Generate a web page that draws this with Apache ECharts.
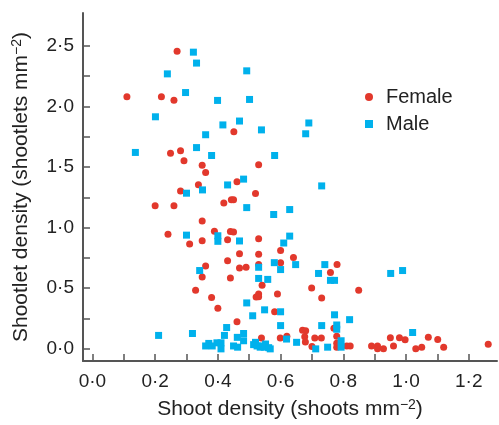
<!DOCTYPE html>
<html>
<head>
<meta charset="utf-8">
<script src="https://cdn.jsdelivr.net/npm/echarts@6/dist/echarts.min.js"></script>
<style>
  html, body { margin: 0; padding: 0; background: #fff; }
  #chart { width: 499px; height: 425px; }
</style>
</head>
<body>
<div id="chart"></div>
<script>
// shoot density (x) vs shootlet density (y)
let female = [
    [0.270,2.455],[0.110,2.08],[0.220,2.08],[0.260,2.05],[0.249,1.614],[0.281,1.633],[0.292,1.552],
    [0.350,1.514],[0.361,1.454],[0.338,1.354],[0.281,1.303],[0.451,1.79],[0.530,1.519],[0.461,1.379],
    [0.520,1.281],[0.200,1.18],[0.260,1.18],[0.350,1.054],[0.389,0.97],[0.241,0.946],[0.310,0.865],
    [0.350,0.892],[0.361,0.684],[0.350,0.592],[0.329,0.484],[0.380,0.424],[0.400,0.335],[0.419,1.203],
    [0.443,1.23],[0.450,1.23],[0.44,0.968],[0.45,0.963],[0.431,0.90],[0.530,0.908],[0.469,0.784],
    [0.530,0.781],[0.600,0.811],[0.641,0.754],[0.431,0.727],[0.600,0.711],[0.530,0.695],[0.469,0.667],
    [0.490,0.673],[0.780,0.695],[0.759,0.630],[0.44,0.584],[0.541,0.525],[0.699,0.503],[0.849,0.484],
    [0.590,0.452],[0.53,0.452],[0.522,0.427],[0.53,0.43],[0.731,0.419],[0.581,0.306],[0.461,0.224],
    [0.670,0.154],[0.680,0.149],[0.677,0.10],[0.679,0.057],[0.539,0.089],[0.599,0.089],[0.62,0.105],
    [0.709,0.089],[0.730,0.089],[0.770,0.17],[0.779,0.105],[0.70,0.019],[0.779,0.046],[0.779,0.014],
    [0.811,0.024],[0.822,0.024],[0.890,0.024],[0.909,0.024],[0.909,0.0],[0.928,0.0],[0.950,0.092],
    [0.960,0.024],[0.979,0.092],[0.997,0.076],[1.031,0.0],[1.050,0.014],[1.071,0.095],[1.101,0.078],
    [1.120,0.014],[1.262,0.038]
];
let male = [
    [0.322,2.447],[0.332,2.357],[0.239,2.268],[0.297,2.114],[0.399,2.049],[0.201,1.914],[0.416,1.847],
    [0.361,1.766],[0.137,1.62],[0.332,1.66],[0.380,1.595],[0.351,1.311],[0.300,1.284],[0.492,2.293],
    [0.501,2.057],[0.469,1.879],[0.539,1.806],[0.690,1.863],[0.680,1.774],[0.581,1.595],[0.482,1.40],
    [0.431,1.352],[0.731,1.344],[0.300,0.938],[0.40,0.933],[0.40,0.887],[0.342,0.646],[0.211,0.111],
    [0.319,0.127],[0.492,1.165],[0.578,1.108],[0.629,1.149],[0.629,0.93],[0.610,0.873],[0.469,0.89],
    [0.580,0.711],[0.600,0.654],[0.648,0.695],[0.530,0.673],[0.741,0.695],[0.721,0.622],[0.759,0.565],
    [0.772,0.565],[0.530,0.581],[0.559,0.573],[0.492,0.379],[0.549,0.322],[0.511,0.273],[0.600,0.306],
    [0.600,0.192],[0.772,0.281],[0.820,0.241],[0.731,0.192],[0.779,0.197],[0.779,0.162],[0.428,0.176],
    [0.421,0.111],[0.482,0.127],[0.462,0.095],[0.482,0.067],[0.619,0.081],[0.651,0.054],[0.793,0.067],
    [0.793,0.014],[0.712,0.0],[0.750,0.014],[0.361,0.024],[0.371,0.045],[0.382,0.024],[0.397,0.05],
    [0.41,0.0],[0.41,0.05],[0.45,0.024],[0.463,0.014],[0.514,0.035],[0.525,0.024],[0.535,0.014],
    [0.548,0.014],[0.567,0.0],[0.520,0.054],[0.541,0.024],[0.552,0.04],[0.562,0.01],[0.951,0.622],
    [0.989,0.646],[1.021,0.135]
];
let xTicks = [0,0.1,0.2,0.3,0.4,0.5,0.6,0.7,0.8,0.9,1.0,1.1,1.2];
let xLabels = [0,0.2,0.4,0.6,0.8,1.0,1.2];
let yTicks = [0,0.25,0.5,0.75,1.0,1.25,1.5,1.75,2.0,2.25,2.5];
let yLabels = [0,0.5,1.0,1.5,2.0,2.5];

let font = '"Liberation Sans", Arial, sans-serif';
let dot = function (v) { return v.toFixed(1).replace('.', '\u00b7'); };
let axisCol = '#555';
let supStyle = {fontSize: 14, color: '#222', fontFamily: font, padding: [0, 0, 9, 0]};

let chart = echarts.init(document.getElementById('chart'));
let option = {
    animation: false,
    textStyle: {fontFamily: font},
    grid: {left: 83, right: 2, top: 13, bottom: 57},
    legend: {
        orient: 'vertical',
        left: 360,
        top: 82,
        itemWidth: 8,
        itemHeight: 8,
        itemGap: 7,
        textStyle: {fontSize: 20, color: '#222', fontFamily: font, padding: [0, 0, 0, 8]},
        data: [
            {name: 'Female', icon: 'circle'},
            {name: 'Male', icon: 'rect'}
        ]
    },
    xAxis: {
        type: 'value',
        min: -0.03,
        max: 1.29,
        name: 'Shoot density (shoots mm{sup|\u22122})',
        nameLocation: 'middle',
        nameGap: 37,
        nameTextStyle: {fontSize: 21, color: '#222', fontFamily: font, rich: {sup: supStyle}},
        splitLine: {show: false},
        axisLine: {onZero: false, lineStyle: {color: axisCol, width: 2}},
        axisTick: {inside: true, length: 7, customValues: xTicks, lineStyle: {color: axisCol, width: 1.5}},
        axisLabel: {customValues: xLabels, formatter: dot, fontSize: 19, color: '#222', margin: 11}
    },
    yAxis: {
        type: 'value',
        min: -0.1,
        max: 2.77,
        name: 'Shootlet density (shootlets mm{sup|\u22122})',
        nameLocation: 'middle',
        nameGap: 50,
        nameTextStyle: {fontSize: 21, color: '#222', fontFamily: font, rich: {sup: supStyle}},
        splitLine: {show: false},
        axisLine: {onZero: false, lineStyle: {color: axisCol, width: 2}},
        axisTick: {inside: true, length: 7, customValues: yTicks, lineStyle: {color: axisCol, width: 1.5}},
        axisLabel: {customValues: yLabels, formatter: dot, fontSize: 19, color: '#222', margin: 9}
    },
    series: [
        {
            name: 'Female',
            type: 'scatter',
            symbol: 'circle',
            symbolSize: 7,
            itemStyle: {color: '#e2382c', opacity: 1},
            data: female
        },
        {
            name: 'Male',
            type: 'scatter',
            symbol: 'rect',
            symbolSize: 7,
            itemStyle: {color: '#00b1ec', opacity: 1},
            data: male
        }
    ]
};
chart.setOption(option);
</script>
</body>
</html>
